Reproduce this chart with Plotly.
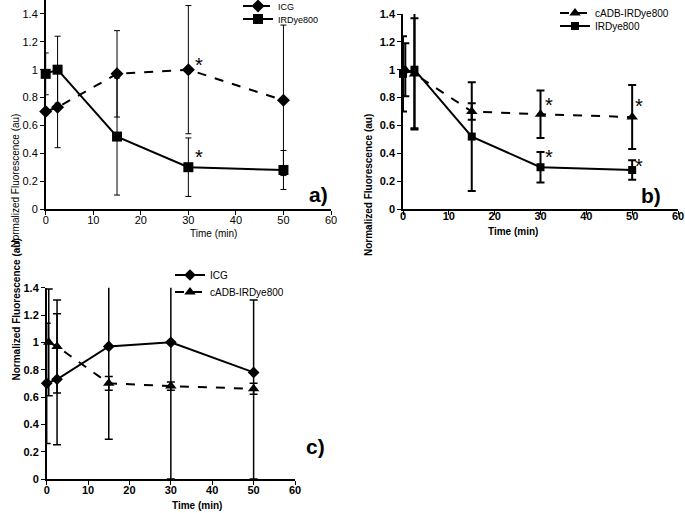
import plotly.graph_objects as go

# ---- data ----
time = [0, 2.5, 15, 30, 50]
cadb_time = [0.5, 2.5, 15, 30, 50]
icg = [0.70, 0.73, 0.97, 1.00, 0.78]
irdye = [0.97, 1.00, 0.52, 0.30, 0.28]
cadb = [1.00, 0.97, 0.70, 0.68, 0.66]

# panel a errors
icg_err_a = [0.0, 0.29, 0.31, 0.46, 0.54]
irdye_err_a = [0.15, 0.24, 0.42, 0.21, 0.14]
# panel b errors
cadb_err_b = [0.19, 0.40, 0.06, 0.17, 0.23]
irdye_err_b = [0.27, 0.42, 0.39, 0.11, 0.07]
# panel c errors
icg_err_c_plus = [0.44, 0.48, 0.70, 1.00, 0.53]
icg_err_c_minus = [0.44, 0.48, 0.68, 1.00, 0.78]
cadb_err_c = [0.39, 0.34, 0.05, 0.03, 0.04]

x_ticks = [0, 10, 20, 30, 40, 50, 60]
y_ticks = [0, 0.2, 0.4, 0.6, 0.8, 1, 1.2, 1.4]
y_ticklabels = ["0", "0.2", "0.4", "0.6", "0.8", "1", "1.2", "1.4"]

# asterisks (x, y) per panel
stars_a = [(32.2, 1.03), (32.2, 0.37)]
stars_b = [(31.8, 0.75), (31.8, 0.37), (51.5, 0.74), (51.5, 0.31)]

FONT = "Liberation Sans"
W, H = 685, 513
fig = go.Figure()

def err(arr, width, thick, minus=None):
    d = dict(type="data", array=arr, visible=True, color="black",
             thickness=thick, width=width)
    if minus is not None:
        d["symmetric"] = False
        d["arrayminus"] = minus
    return d

# panel a
fig.add_trace(go.Scatter(x=time, y=icg, name="ICG", mode="lines+markers",
    line=dict(color="black", width=2, dash="dash"),
    marker=dict(symbol="diamond", size=10, color="black"),
    error_y=err(icg_err_a, 3, 1), xaxis="x", yaxis="y", legend="legend",
    showlegend=True, cliponaxis=False))
fig.add_trace(go.Scatter(x=time, y=irdye, name="IRDye800", mode="lines+markers",
    line=dict(color="black", width=2),
    marker=dict(symbol="square", size=10, color="black"),
    error_y=err(irdye_err_a, 3, 1), xaxis="x", yaxis="y", legend="legend2",
    cliponaxis=False))

# panel b
fig.add_trace(go.Scatter(x=cadb_time, y=cadb, name="cADB-IRDye800", mode="lines+markers",
    line=dict(color="black", width=2, dash="dash"),
    marker=dict(symbol="triangle-up", size=10, color="black"),
    error_y=err(cadb_err_b, 4, 2), xaxis="x2", yaxis="y2", legend="legend3",
    cliponaxis=False))
fig.add_trace(go.Scatter(x=time, y=irdye, name="IRDye800", mode="lines+markers",
    line=dict(color="black", width=2),
    marker=dict(symbol="square", size=8, color="black"),
    error_y=err(irdye_err_b, 4, 2), xaxis="x2", yaxis="y2", legend="legend4",
    cliponaxis=False))

# panel c
fig.add_trace(go.Scatter(x=time, y=icg, name="ICG", mode="lines+markers",
    line=dict(color="black", width=2),
    marker=dict(symbol="diamond", size=9, color="black"),
    error_y=err(icg_err_c_plus, 4, 1.5, icg_err_c_minus), xaxis="x3", yaxis="y3",
    legend="legend5", cliponaxis=False))
fig.add_trace(go.Scatter(x=cadb_time, y=cadb, name="cADB-IRDye800", mode="lines+markers",
    line=dict(color="black", width=2, dash="dash"),
    marker=dict(symbol="triangle-up", size=10, color="black"),
    error_y=err(cadb_err_c, 4, 1.5), xaxis="x3", yaxis="y3",
    legend="legend6", cliponaxis=False))

def xdom(a, b):
    return [a / W, b / W]

def ydom(top_px, bot_px):
    return [(H - bot_px) / H, (H - top_px) / H]

def xax(dom, anchor, bold, standoff):
    return dict(domain=dom, anchor=anchor, range=[0, 60], tickvals=x_ticks,
                showline=True, linecolor="black", linewidth=1.5,
                ticks="outside", ticklen=4, tickcolor="black",
                showgrid=False, zeroline=False, ticklabelstandoff=standoff,
                tickfont=dict(family=FONT, size=11, color="black",
                              weight="bold" if bold else "normal"))

def yax(dom, anchor, rng, bold):
    return dict(domain=dom, anchor=anchor, range=rng, tickvals=y_ticks,
                ticktext=y_ticklabels,
                showline=True, linecolor="black", linewidth=1.5,
                ticks="outside", ticklen=4, tickcolor="black",
                showgrid=False, zeroline=False,
                tickfont=dict(family=FONT, size=11, color="black",
                              weight="bold" if bold else "normal"))

def leg(xpx, ypx, size, anchor="middle"):
    return dict(bgcolor="rgba(0,0,0,0)", borderwidth=0, xanchor="left",
                yanchor=anchor, x=xpx / W, y=(H - ypx) / H, itemwidth=30,
                visible=True,
                font=dict(family=FONT, size=size, color="black"))

fig.update_layout(
    width=W, height=H, margin=dict(l=0, r=0, t=0, b=0, autoexpand=False),
    paper_bgcolor="white", plot_bgcolor="white", showlegend=True,
    font=dict(family=FONT, color="black"),
    xaxis=xax(xdom(45.7, 331), "y", False, -4),
    yaxis=yax(ydom(0, 209), "x", [0, 1.5], False),
    xaxis2=xax(xdom(403, 678), "y2", True, -8),
    yaxis2=yax(ydom(14, 209), "x2", [0, 1.4], True),
    xaxis3=xax(xdom(46.7, 295), "y3", True, -4),
    yaxis3=yax(ydom(287.7, 479), "x3", [0, 1.4], True),
    legend=leg(238, 6, 9),
    legend2=leg(238, 19, 9),
    legend3=leg(555, 13, 10),
    legend4=leg(555, 26, 10),
    legend5=leg(170, 275, 10),
    legend6=leg(170, 292, 10),
)

ann = []
# axis titles
for xpx, ypx, bold in [(7, 112, False), (368, 112, True), (8, 383, True)]:
    ann.append(dict(text="Normalized Fluorescence (au)", x=xpx / W, y=(H - ypx) / H,
                    xref="paper", yref="paper", showarrow=False, textangle=-90,
                    font=dict(family=FONT, size=10, color="black",
                              weight="bold" if bold else "normal")))
for xpx, ypx, bold in [(188, 233, False), (540, 231, True)]:
    ann.append(dict(text="Time (min)", x=xpx / W, y=(H - ypx) / H,
                    xref="paper", yref="paper", showarrow=False,
                    font=dict(family=FONT, size=10, color="black",
                              weight="bold" if bold else "normal")))
ann.append(dict(text="Time (min)", x=170 / W, y=0, yanchor="bottom",
                xref="paper", yref="paper", showarrow=False,
                font=dict(family=FONT, size=10, color="black", weight="bold")))
# panel letters
for t, xpx, ypx in [("a)", 318, 194), ("b)", 663, 195), ("c)", 315, 460)]:
    ann.append(dict(text=t, x=xpx / W, y=(H - ypx) / H, xref="paper", yref="paper",
                    showarrow=False,
                    font=dict(family=FONT, size=21, color="black", weight="bold")))
# asterisks
for (sx, sy) in stars_a:
    ann.append(dict(text="*", x=sx, y=sy, xref="x", yref="y", showarrow=False,
                    font=dict(family=FONT, size=20, color="black")))
for (sx, sy) in stars_b:
    ann.append(dict(text="*", x=sx, y=sy, xref="x2", yref="y2", showarrow=False,
                    font=dict(family=FONT, size=20, color="black")))
fig.update_layout(annotations=ann)

fig.write_html("out.html", config={"displayModeBar": False},
               post_script="document.body.style.margin='0';document.body.style.overflow='hidden';")
